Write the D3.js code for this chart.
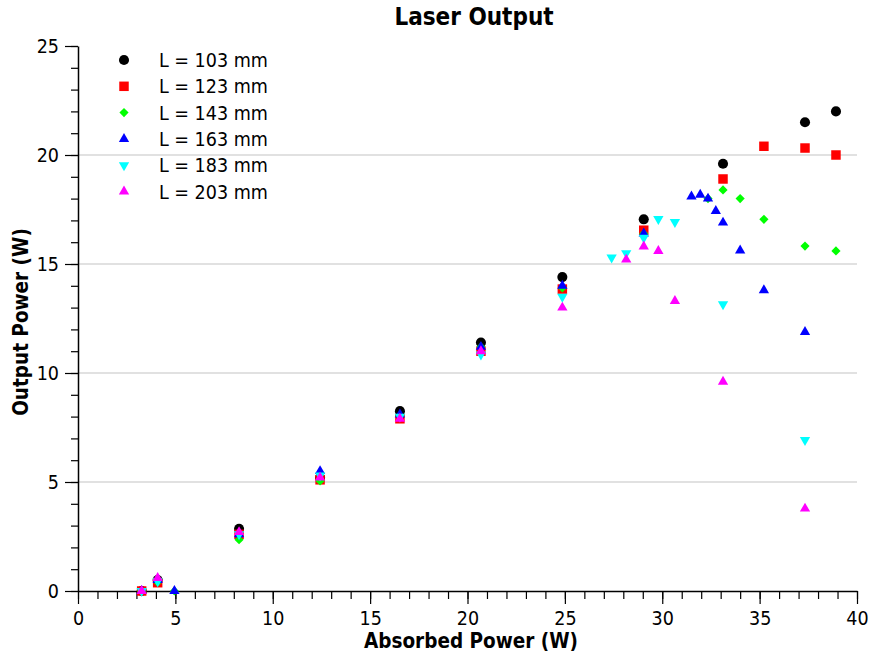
<!DOCTYPE html>
<html>
<head>
<meta charset="utf-8">
<script src="https://cdn.jsdelivr.net/npm/d3@7"></script>
<style>
  body { margin: 0; background: #fff; }
  text { font-family: "DejaVu Sans Condensed", "DejaVu Sans", sans-serif; font-stretch: condensed; }
</style>
</head>
<body>
<div id="chart"></div>
<script>
// data
var seriesNames = ["L = 103 mm", "L = 123 mm", "L = 143 mm", "L = 163 mm", "L = 183 mm", "L = 203 mm"];
var colors = ["#000000", "#ff0000", "#00ff00", "#0000ff", "#00ffff", "#ff00ff"];
var shapes = ["circle", "square", "diamond", "triUp", "triDown", "triUp"];

var x103 = [3.27, 4.09, 8.27, 12.43, 16.53, 20.69, 24.87, 29.05, 33.12, 37.33, 38.92];
var y103 = [0.0, 0.5, 2.85, 5.2, 8.25, 11.4, 14.4, 17.05, 19.6, 21.5, 22.0];

var x123 = [3.27, 4.09, 8.27, 12.43, 16.53, 20.69, 24.87, 29.05, 33.12, 35.22, 37.33, 38.92];
var y123 = [0.0, 0.38, 2.6, 5.1, 7.9, 11.0, 13.85, 16.55, 18.9, 20.4, 20.32, 20.0];

var x143 = [3.27, 4.09, 4.95, 8.27, 12.43, 16.53, 20.69, 24.87, 29.05, 32.35, 33.12, 34.0, 35.22, 37.33, 38.92];
var y143 = [0.0, 0.4, 0.0, 2.35, 5.05, 8.05, 11.2, 13.9, 16.4, 18.0, 18.4, 18.0, 17.05, 15.82, 15.6];

var x163 = [3.27, 4.09, 4.95, 8.27, 12.43, 16.53, 20.69, 24.87, 29.05, 31.5, 31.95, 32.35, 32.75, 33.12, 34.0, 35.22, 37.33];
var y163 = [0.0, 0.5, 0.0, 2.6, 5.5, 8.1, 11.2, 14.0, 16.4, 18.1, 18.18, 18.0, 17.43, 16.9, 15.62, 13.8, 11.88];

var x183 = [3.27, 4.09, 8.27, 12.43, 16.53, 20.69, 24.87, 27.4, 28.15, 29.05, 29.8, 30.65, 33.12, 37.33];
var y183 = [0.0, 0.45, 2.6, 5.3, 8.0, 10.85, 13.5, 15.3, 15.5, 16.2, 17.06, 16.93, 13.15, 6.93];

var x203 = [3.27, 4.09, 8.27, 12.43, 16.53, 20.69, 24.87, 28.15, 29.05, 29.8, 30.65, 33.12, 37.33];
var y203 = [0.0, 0.6, 2.7, 5.2, 7.9, 11.0, 13.0, 15.2, 15.8, 15.6, 13.3, 9.6, 3.78];

var xTicks = [0, 5, 10, 15, 20, 25, 30, 35, 40];
var yTicks = [0, 5, 10, 15, 20, 25];

var allX = [x103, x123, x143, x163, x183, x203];
var allY = [y103, y123, y143, y163, y183, y203];

var svgWidth = 872;
var svgHeight = 655;
var margin = { top: 46, right: 15, bottom: 64, left: 78 };
var width = svgWidth - margin.left - margin.right;
var height = svgHeight - margin.top - margin.bottom;

var svg = d3.select("#chart")
  .append("svg")
  .attr("width", svgWidth)
  .attr("height", svgHeight);

var chartGroup = svg.append("g")
  .attr("transform", `translate(${margin.left}, ${margin.top})`);

var xScale = d3.scaleLinear().domain([0, 40]).range([0, width]);
var yScale = d3.scaleLinear().domain([0, 25]).range([height, 0]);

// grid lines
chartGroup.append("g")
  .selectAll("line")
  .data([5, 10, 15, 20])
  .enter()
  .append("line")
  .attr("x1", 0)
  .attr("x2", width)
  .attr("y1", d => yScale(d))
  .attr("y2", d => yScale(d))
  .attr("stroke", "#c4c4c4")
  .attr("stroke-width", 1.2);

// minor ticks
var xMinor = chartGroup.append("g")
  .attr("transform", `translate(0, ${height})`)
  .call(d3.axisBottom(xScale).ticks(40).tickSize(8).tickFormat(""));
xMinor.select(".domain").remove();

var yMinor = chartGroup.append("g")
  .call(d3.axisLeft(yScale).ticks(25).tickSize(7).tickFormat(""));
yMinor.select(".domain").remove();

// major axes
var xAxis = chartGroup.append("g")
  .attr("transform", `translate(0, ${height})`)
  .call(d3.axisBottom(xScale).tickValues(xTicks).tickSize(13).tickSizeOuter(0).tickPadding(7));

var yAxis = chartGroup.append("g")
  .call(d3.axisLeft(yScale).tickValues(yTicks).tickSize(13).tickSizeOuter(0).tickPadding(6));

svg.selectAll(".tick text")
  .attr("font-size", 19.5)
  .attr("fill", "#000");
svg.selectAll(".domain").attr("stroke-width", 1.5);
svg.selectAll(".tick line").attr("stroke", "#000").attr("stroke-width", 1.2);
svg.selectAll("g").attr("font-family", null);

// marker shapes
function markerPath(shape) {
  if (shape === "circle") return d3.symbol(d3.symbolCircle, 80)();
  if (shape === "square") return d3.symbol(d3.symbolSquare, 90)();
  if (shape === "diamond") return d3.symbol(d3.symbolSquare, 42)();
  return d3.symbol(d3.symbolTriangle, 46)();
}
function markerRotate(shape) {
  if (shape === "triDown") return " rotate(180)";
  if (shape === "diamond") return " rotate(45)";
  return "";
}

// points
allX.forEach(function(xs, i) {
  var pts = xs.map((x, j) => ({ x: x, y: allY[i][j] }));
  chartGroup.append("g")
    .selectAll("path")
    .data(pts)
    .enter()
    .append("path")
    .attr("d", markerPath(shapes[i]))
    .attr("transform", d => `translate(${xScale(d.x)}, ${yScale(d.y)})` + markerRotate(shapes[i]))
    .attr("fill", colors[i]);
});

// legend
var legend = svg.append("g");
seriesNames.forEach(function(name, i) {
  var ly = 60 + i * 26.3;
  legend.append("path")
    .attr("d", markerPath(shapes[i]))
    .attr("transform", `translate(124, ${ly})` + markerRotate(shapes[i]))
    .attr("fill", colors[i]);
  legend.append("text")
    .attr("x", 159)
    .attr("y", ly + 7)
    .attr("font-size", 19.5)
    .text(name);
});

// titles
svg.append("text")
  .attr("x", 474)
  .attr("y", 25)
  .attr("text-anchor", "middle")
  .attr("font-size", 24)
  .attr("font-weight", "bold")
  .text("Laser Output");

svg.append("text")
  .attr("x", 471)
  .attr("y", 648)
  .attr("text-anchor", "middle")
  .attr("font-size", 20.5)
  .attr("font-weight", "bold")
  .text("Absorbed Power (W)");

svg.append("text")
  .attr("transform", `translate(28, 322) rotate(-90)`)
  .attr("text-anchor", "middle")
  .attr("font-size", 20.5)
  .attr("font-weight", "bold")
  .text("Output Power (W)");

// if no condensed face is installed, squeeze the glyphs instead
var probe = svg.append("text").attr("font-size", 20).text("L = 103 mm");
var condW = probe.node().getComputedTextLength();
probe.style("font-family", "'DejaVu Sans'").style("font-stretch", "normal");
var normW = probe.node().getComputedTextLength();
probe.remove();
if (condW > normW * 0.95) {
  svg.selectAll("text").each(function() {
    var w = this.getComputedTextLength();
    d3.select(this)
      .attr("textLength", w * 0.9)
      .attr("lengthAdjust", "spacingAndGlyphs");
  });
}
</script>
</body>
</html>
